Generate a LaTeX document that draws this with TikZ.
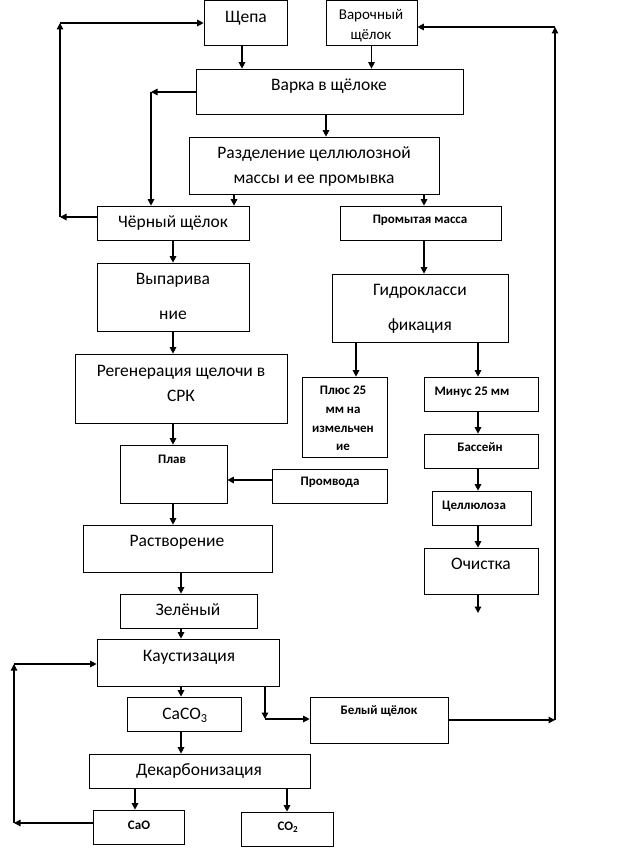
\documentclass[tikz,border=0pt]{standalone}
\usepackage{fontspec}
\setmainfont{Carlito}
\usetikzlibrary{arrows.meta,calc}
\newcommand\bx[5]{\node[box, minimum width={(#4)-(#2)}, minimum height={(#5)-(#3)}] (#1) at ({((#2)+(#4))/2},{((#3)+(#5))/2}) {};}
\begin{document}
\begin{tikzpicture}[x=1pt,y=-1pt,
  box/.style={draw, line width=0.7pt, inner sep=0pt},
  arr/.style={line width=1.3pt, -{Triangle[length=6.5pt,width=6.5pt]}},
  big/.style={font=\fontsize{17.5}{20}\selectfont, inner sep=0pt, text height=9pt, text depth=0pt},
  mid/.style={font=\fontsize{15}{17}\selectfont, inner sep=0pt, text height=7.5pt, text depth=0pt},
  sm/.style={font=\bfseries\fontsize{13}{15}\selectfont, inner sep=0pt, text height=6.5pt, text depth=0pt}]
\useasboundingbox (0,0) rectangle (619,851);
% boxes
\bx{shchepa}{204}{0}{287}{45}
\bx{varoch}{326}{0}{417}{45}
\bx{varka}{196}{69}{463}{114}
\bx{razd}{189}{137}{439}{194}
\bx{black}{97}{206}{249}{240}
\bx{promyt}{340}{206}{501}{240}
\bx{gidro}{332}{274}{508}{342}
\bx{plus}{302}{377}{387}{457}
\bx{minus}{424}{377}{538}{411}
\bx{bass}{424}{434}{538}{468}
\bx{cell}{432}{491}{531}{525}
\bx{ochist}{424}{548}{538}{594}
\bx{vyp}{97}{263}{249}{331}
\bx{regen}{75}{354}{287}{423}
\bx{plav}{120}{445}{227}{503}
\bx{promvoda}{272}{469}{387}{503}
\bx{rastv}{83}{525}{272}{572}
\bx{zel}{120}{594}{257}{628}
\bx{kaust}{97}{639}{279}{686}
\bx{caco}{127}{697}{241}{731}
\bx{belyi}{310}{697}{448}{743}
\bx{dekarb}{89}{754}{310}{788}
\bx{cao}{93}{810}{184}{844}
\bx{co2}{241}{812}{333}{846}
% texts
\node[big] (t1) at (246,18) {Щепа};
\node[mid] (t2a) at (371,16) {Варочный};
\node[mid] (t2b) at (371,36) {щёлок};
\node[big] (t3) at (329,86) {Варка в щёлоке};
\node[big] (t4a) at (314,154) {Разделение целлюлозной};
\node[big] (t4b) at (314,179) {массы и ее промывка};
\node[big] (t5) at (173,223) {Чёрный щёлок};
\node[sm] (t6) at (420,220) {Промытая масса};
\node[big] (t7a) at (420,291) {Гидрокласси};
\node[big] (t7b) at (420,326) {фикация};
\node[sm] (t8a) at (343,391) {Плюс 25};
\node[sm] (t8b) at (343,410) {мм на};
\node[sm] (t8c) at (343,429) {измельчен};
\node[sm] (t8d) at (343,447) {ие};
\node[sm] (t9) at (472,392) {Минус 25 мм};
\node[sm] (t10) at (480,448) {Бассейн};
\node[sm] (t11) at (474,506) {Целлюлоза};
\node[big] (t12) at (481,565) {Очистка};
\node[big] (t13a) at (173,280) {Выпарива};
\node[big] (t13b) at (173,315) {ние};
\node[big] (t14a) at (181,372) {Регенерация щелочи в};
\node[big] (t14b) at (181,397) {СРК};
\node[sm] (t15) at (172,460) {Плав};
\node[sm] (t16) at (330,482) {Промвода};
\node[big] (t17) at (177,542) {Растворение};
\node[big] (t18) at (188,611) {Зелёный};
\node[big] (t19) at (189,657) {Каустизация};
\node[big] (t20) at (185,715) {CaCO\textsubscript{3}};
\node[big] (t21) at (199,771) {Декарбонизация};
\node[sm] (t22) at (139,826) {CaO};
\node[sm] (t23) at (288,827) {CO\textsubscript{2}};
\node[sm] (t24) at (379,711) {Белый щёлок};
% coordinates for loops
\coordinate (L1) at (60,217);
\coordinate (L2) at (60,23);
\coordinate (V1) at (151,92);
\coordinate (R1) at (555,720);
\coordinate (R2) at (555,27);
\coordinate (K1) at (265,719);
\coordinate (B1) at (14,823);
\coordinate (B2) at (14,664);
\coordinate (E1) at (478,613);
% vertical arrows
\draw[arr] ([xshift=-3.5pt]shchepa.south) -- ([xshift=-3.5pt]shchepa.south |- varka.north);
\draw[arr] (varoch.south) -- (varoch.south |- varka.north);
\draw[arr] ([xshift=-3.5pt]varka.south) -- ([xshift=-3.5pt]varka.south |- razd.north);
\draw[arr] (razd.south -| 234,0) -- (black.north -| 234,0);
\draw[arr] (razd.south -| 424,0) -- (promyt.north -| 424,0);
\draw[arr] (promyt.south -| 424,0) -- (gidro.north -| 424,0);
\draw[arr] (gidro.south -| 356,0) -- (plus.north -| 356,0);
\draw[arr] (gidro.south -| 478,0) -- (minus.north -| 478,0);
\draw[arr] (minus.south -| 478,0) -- (bass.north -| 478,0);
\draw[arr] (bass.south -| 478,0) -- (cell.north -| 478,0);
\draw[arr] (cell.south -| 478,0) -- (ochist.north -| 478,0);
\draw[arr] (ochist.south -| E1) -- (E1);
\draw[arr] (black.south) -- (vyp.north);
\draw[arr] (vyp.south) -- (vyp.south |- regen.north);
\draw[arr] (regen.south -| vyp.south) -- (vyp.south |- plav.north);
\draw[arr] (plav.south -| vyp.south) -- (vyp.south |- rastv.north);
\draw[arr] (rastv.south -| 181,0) -- (zel.north -| 181,0);
\draw[arr] (zel.south -| 181,0) -- (kaust.north -| 181,0);
\draw[arr] (kaust.south -| 181,0) -- (caco.north -| 181,0);
\draw[arr] (caco.south -| 181,0) -- (dekarb.north -| 181,0);
\draw[arr] (dekarb.south -| 135,0) -- (cao.north -| 135,0);
\draw[arr] (dekarb.south -| 287,0) -- (co2.north -| 287,0);
\draw[arr] (promvoda.west |- 0,480) -- (plav.east |- 0,480);
% loops
\draw[arr] (black.west |- L1) -- (L1);
\draw[arr] (L1) -- (L2);
\draw[arr] (L2) -- (shchepa.west |- L2);
\draw[arr] (varka.west |- V1) -- (V1);
\draw[arr] (V1) -- (V1 |- black.north);
\draw[arr] (belyi.east |- R1) -- (R1);
\draw[arr] (R1) -- (R2);
\draw[arr] (R2) -- (varoch.east |- R2);
\draw[arr] (kaust.south -| K1) -- (K1);
\draw[arr] (K1) -- (belyi.west |- K1);
\draw[arr] (cao.west |- B1) -- (B1);
\draw[arr] (B1) -- (B2);
\draw[arr] (B2) -- (kaust.west |- B2);
\end{tikzpicture}
\end{document}
